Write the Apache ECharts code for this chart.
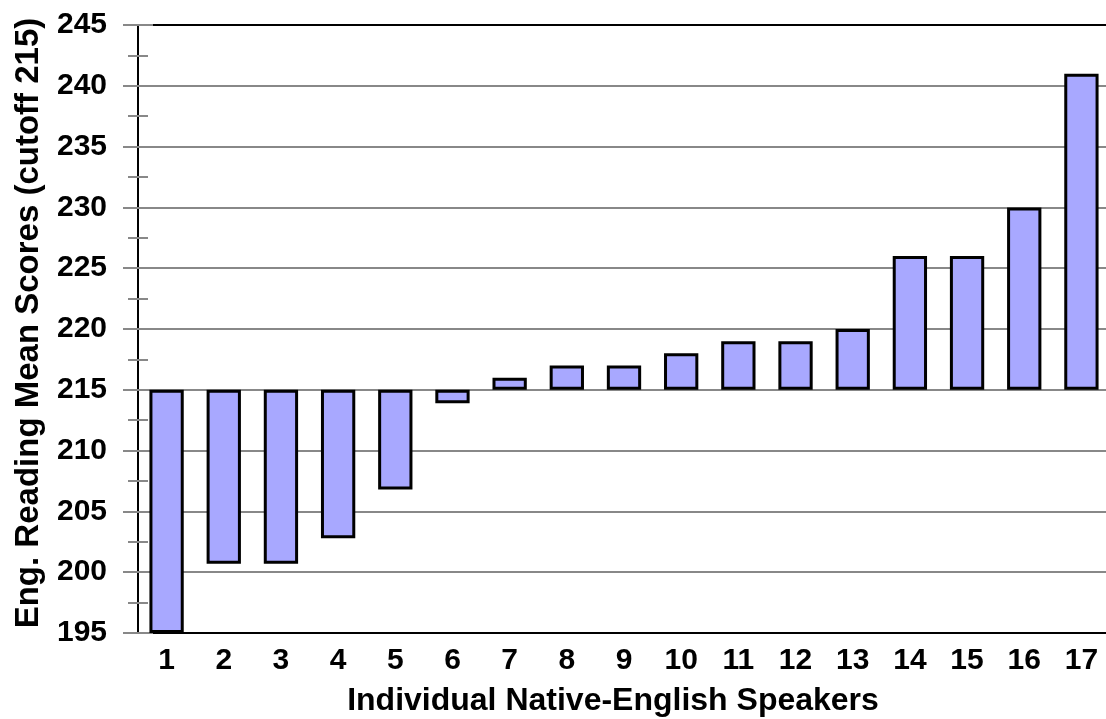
<!DOCTYPE html>
<html>
<head>
<meta charset="utf-8">
<script src="https://cdn.jsdelivr.net/npm/echarts@6/dist/echarts.min.js"></script>
<style>
html,body{margin:0;padding:0;background:#fff;}
#chart{width:1106px;height:719px;}
</style>
</head>
<body>
<div id="chart"></div>
<script>
var categories = ['1','2','3','4','5','6','7','8','9','10','11','12','13','14','15','16','17'];
var scores = [195, 200.7, 200.7, 202.8, 206.8, 213.9, 216, 217, 217, 218, 219, 219, 220, 226, 226, 230, 241];
var cutoff = 215;
var yTicks = [195, 200, 205, 210, 215, 220, 225, 230, 235, 240, 245];

var baseData = scores.map(function(v){ return Math.min(v, cutoff); });
var diffData = scores.map(function(v){ return Math.abs(v - cutoff); });

var FONT = 'Liberation Sans, Arial, sans-serif';
var chart = echarts.init(document.getElementById('chart'), null, {renderer:'canvas'});
chart.setOption({
  animation: false,
  backgroundColor: '#fff',
  grid: {left: 138, top: 25, bottom: 86, right: -4, outerBoundsMode: 'none', containLabel: false},
  xAxis: [{
    type: 'category',
    data: categories,
    name: 'Individual Native-English Speakers',
    nameLocation: 'middle',
    nameGap: 52,
    nameTextStyle: {fontFamily: FONT, fontWeight: 'bold', fontSize: 32, color: '#000', padding: [0, 22, 0, 0]},
    axisLine: {lineStyle: {color: '#000', width: 2}},
    axisTick: {alignWithLabel: true, length: 10, lineStyle: {color: '#888', width: 2}},
    axisLabel: {fontFamily: FONT, fontWeight: 'bold', fontSize: 30, color: '#000', margin: 13, interval: 0},
    splitLine: {show: false}
  }, {
    type: 'category',
    data: categories,
    position: 'top',
    axisLine: {show: true, lineStyle: {color: '#000', width: 2}},
    axisTick: {show: false},
    axisLabel: {show: false},
    splitLine: {show: false}
  }],
  yAxis: [{
    type: 'value',
    min: yTicks[0], max: yTicks[yTicks.length-1], interval: 5,
    name: 'Eng. Reading Mean Scores (cutoff 215)',
    nameLocation: 'middle',
    nameGap: 93,
    nameTextStyle: {fontFamily: FONT, fontWeight: 'bold', fontSize: 33, color: '#000', padding: [0, 0, 0, 12]},
    axisLine: {show: true, lineStyle: {color: '#000', width: 2}},
    axisTick: {show: true, length: 15, lineStyle: {color: '#888', width: 2}},
    minorTick: {show: true, splitNumber: 2, length: 10, lineStyle: {color: '#888', width: 2}},
    axisLabel: {fontFamily: FONT, fontWeight: 'bold', fontSize: 30, color: '#000', margin: 31},
    splitLine: {show: true, lineStyle: {color: '#888', width: 2}}
  }, {
    type: 'value',
    position: 'left',
    min: yTicks[0], max: yTicks[yTicks.length-1], interval: 5,
    axisLine: {show: true, lineStyle: {color: '#000', width: 2}},
    axisTick: {show: true, inside: true, length: 15, lineStyle: {color: '#888', width: 2}},
    minorTick: {show: true, splitNumber: 2, length: 10, lineStyle: {color: '#888', width: 2}},
    axisLabel: {show: false},
    splitLine: {show: false}
  }],
  series: [{
    type: 'bar',
    stack: 'a',
    data: baseData,
    barWidth: '60%',
    itemStyle: {color: 'rgba(0,0,0,0)', borderWidth: 0},
    silent: true
  }, {
    type: 'bar',
    stack: 'a',
    data: diffData,
    barWidth: '60%',
    itemStyle: {color: '#a8a8ff', borderColor: '#000', borderWidth: 3}
  }]
});
</script>
</body>
</html>
